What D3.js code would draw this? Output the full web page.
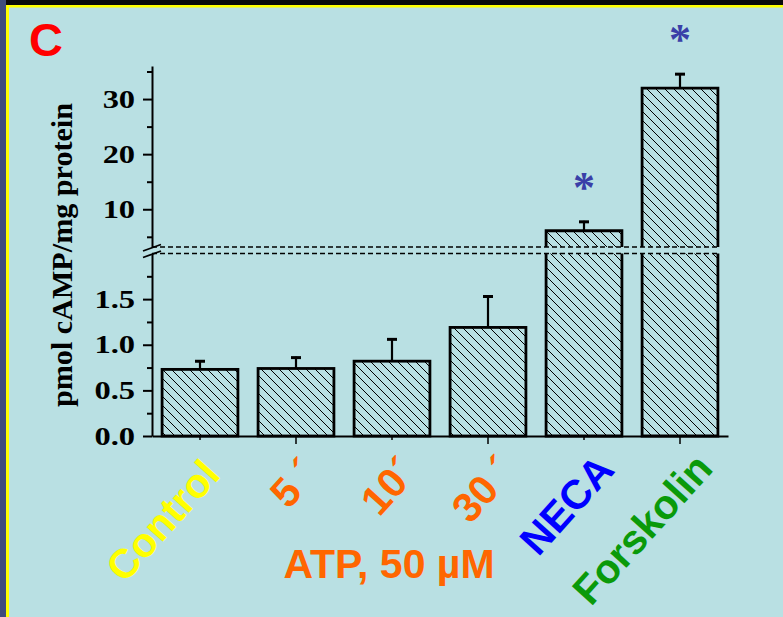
<!DOCTYPE html>
<html>
<head>
<meta charset="utf-8">
<script src="https://cdn.jsdelivr.net/npm/d3@7"></script>
<style>
  html, body { margin: 0; padding: 0; background: #b9e0e3; }
  svg { display: block; }
</style>
</head>
<body>
<div id="chart"></div>
<script>
// values
const categories = ['Control', '5 \u00B4', '10\u00B4', '30 \u00B4', 'NECA', 'Forskolin'];
const labelColors = ['#ffff00', '#ff6600', '#ff6600', '#ff6600', '#0000ff', '#0a9a0a'];
const means = [0.73, 0.74, 0.82, 1.19, 6.1, 32.0];
const errors = [0.10, 0.13, 0.25, 0.35, 1.8, 2.7];
const significant = [false, false, false, false, true, true];
const lowerTicks = [0, 0.5, 1.0, 1.5];
const lowerMinor = [0.25, 0.75, 1.25, 1.75];
const upperTicks = [10, 20, 30];
const upperMinor = [5, 15, 25, 35];

const width = 783, height = 617;
const bg = '#b9e0e3';

const svg = d3.select('#chart').append('svg')
  .attr('width', width)
  .attr('height', height);

const defs = svg.append('defs');
const pat = defs.append('pattern')
  .attr('id', 'hatch')
  .attr('patternUnits', 'userSpaceOnUse')
  .attr('width', 9)
  .attr('height', 9);
pat.append('rect').attr('width', 9).attr('height', 9).attr('fill', bg);
pat.append('path')
  .attr('d', 'M-1,-1L10,10M-1,8L1,10M8,-1L10,1')
  .attr('stroke', '#000')
  .attr('stroke-width', 1);

svg.append('rect').attr('width', width).attr('height', height).attr('fill', bg);

// frame
svg.append('rect').attr('x', 0).attr('y', 0).attr('width', width).attr('height', 5).attr('fill', '#0a0a0a');
svg.append('rect').attr('x', 0).attr('y', 5).attr('width', width).attr('height', 2.5).attr('fill', '#ffff00');
svg.append('rect').attr('x', 0).attr('y', 0).attr('width', 6).attr('height', height).attr('fill', '#3f4c7c');
svg.append('rect').attr('x', 6).attr('y', 5).attr('width', 3).attr('height', height).attr('fill', '#ffff00');

// scales
const x = d3.scaleBand()
  .domain(categories)
  .range([152, 728])
  .paddingInner(0.21)
  .paddingOuter(0.105);

const yLow = d3.scaleLinear().domain([0, 2]).range([436, 253.5]);
const yHigh = d3.scaleLinear().domain([3.15, 36]).range([247, 66]);
const breakLow = 2, breakHigh = 3.15;

const bars = categories.map((c, i) => ({ c, v: means[i], e: errors[i], sig: significant[i] }));

// bars
const g = svg.append('g');
bars.forEach(d => {
  const x0 = x(d.c), x1 = x(d.c) + x.bandwidth();
  if (d.v <= breakLow) {
    g.append('rect')
      .attr('x', x0).attr('y', yLow(d.v))
      .attr('width', x.bandwidth()).attr('height', yLow(0) - yLow(d.v))
      .attr('fill', 'url(#hatch)')
      .attr('stroke', '#000').attr('stroke-width', 2.8);
  } else {
    g.append('rect')
      .attr('x', x0).attr('y', yLow(breakLow))
      .attr('width', x.bandwidth()).attr('height', yLow(0) - yLow(breakLow))
      .attr('fill', 'url(#hatch)');
    g.append('path')
      .attr('d', `M${x0},${yLow(breakLow)}V${yLow(0)}H${x1}V${yLow(breakLow)}`)
      .attr('fill', 'none').attr('stroke', '#000').attr('stroke-width', 2.8);
    g.append('rect')
      .attr('x', x0).attr('y', yHigh(d.v))
      .attr('width', x.bandwidth()).attr('height', yHigh(breakHigh) - yHigh(d.v))
      .attr('fill', 'url(#hatch)');
    g.append('path')
      .attr('d', `M${x0},${yHigh(breakHigh)}V${yHigh(d.v)}H${x1}V${yHigh(breakHigh)}`)
      .attr('fill', 'none').attr('stroke', '#000').attr('stroke-width', 2.8);
  }
});

// error bars (upper only)
const yOf = v => v <= breakLow ? yLow(v) : yHigh(v);
bars.forEach(d => {
  const cx = x(d.c) + x.bandwidth() / 2;
  const top = yOf(d.v + d.e);
  g.append('line')
    .attr('x1', cx).attr('x2', cx)
    .attr('y1', yOf(d.v)).attr('y2', top)
    .attr('stroke', '#000').attr('stroke-width', 2.2);
  g.append('line')
    .attr('x1', cx - 5).attr('x2', cx + 5)
    .attr('y1', top + 1).attr('y2', top + 1)
    .attr('stroke', '#000').attr('stroke-width', 3);
  if (d.sig) {
    g.append('text')
      .attr('x', cx).attr('y', top - 19)
      .attr('text-anchor', 'middle')
      .attr('font-family', 'Liberation Serif, Times New Roman, serif')
      .attr('font-weight', 'bold')
      .attr('font-size', 44)
      .attr('fill', '#3a3fa8')
      .text('*');
  }
});

// break lines
[yHigh(breakHigh), yLow(breakLow)].forEach(yy => {
  svg.append('line')
    .attr('x1', 152).attr('x2', 720)
    .attr('y1', yy).attr('y2', yy)
    .attr('stroke', '#000').attr('stroke-width', 1.4)
    .attr('stroke-dasharray', '5,3');
});

// y axes
const serif = 'Liberation Serif, Times New Roman, serif';
function styleAxis(sel) {
  sel.select('.domain').attr('stroke-width', 2);
  sel.selectAll('.tick line').attr('stroke-width', 2);
  sel.selectAll('text')
    .attr('font-family', serif)
    .attr('font-weight', 'bold')
    .attr('font-size', 25)
    .attr('fill', '#000')
    .attr('transform', 'scale(1.3,1)');
}

const axLow = svg.append('g').attr('transform', 'translate(152,0)')
  .call(d3.axisLeft(yLow).tickValues(lowerTicks).tickSize(9).tickSizeOuter(0)
    .tickPadding(4).tickFormat(d3.format('.1f')));
styleAxis(axLow);
svg.append('g').attr('transform', 'translate(152,0)')
  .call(d3.axisLeft(yLow).tickValues(lowerMinor).tickSize(5).tickFormat(''))
  .call(s => s.select('.domain').remove())
  .call(s => s.selectAll('line').attr('stroke-width', 2));

const axHigh = svg.append('g').attr('transform', 'translate(152,0)')
  .call(d3.axisLeft(yHigh).tickValues(upperTicks).tickSize(9).tickSizeOuter(0)
    .tickPadding(4).tickFormat(d3.format('d')));
styleAxis(axHigh);
svg.append('g').attr('transform', 'translate(152,0)')
  .call(d3.axisLeft(yHigh).tickValues(upperMinor).tickSize(5).tickFormat(''))
  .call(s => s.select('.domain').remove())
  .call(s => s.selectAll('line').attr('stroke-width', 2));

// axis break marks
[0, 6.5].forEach(off => {
  svg.append('line')
    .attr('x1', 143).attr('y1', 251 + off)
    .attr('x2', 161).attr('y2', 244.5 + off)
    .attr('stroke', '#000').attr('stroke-width', 1.8);
});

// x axis
const axX = svg.append('g').attr('transform', 'translate(0,436)')
  .call(d3.axisBottom(x).tickSize(6).tickSizeOuter(0).tickFormat(''));
axX.select('.domain').attr('stroke-width', 2);
axX.selectAll('.tick line').attr('stroke-width', 1.5).attr('y2', (d, i) => i % 2 ? 8 : 4);

// rotated category labels
svg.append('g').selectAll('text')
  .data(categories)
  .join('text')
  .attr('transform', (d, i) => `translate(${x(d) + x.bandwidth() / 2 + 22 + i * 2.5},${476 - i * 1.2}) rotate(-48)`)
  .attr('text-anchor', 'end')
  .attr('font-family', 'Liberation Sans, Arial, sans-serif')
  .attr('font-weight', 'bold')
  .attr('font-size', 41)
  .attr('fill', (d, i) => labelColors[i])
  .text(d => d);

svg.append('text')
  .attr('x', 389).attr('y', 578)
  .attr('text-anchor', 'middle')
  .attr('font-family', 'Liberation Sans, Arial, sans-serif')
  .attr('font-weight', 'bold')
  .attr('font-size', 41)
  .attr('fill', '#ff6600')
  .text('ATP, 50 \u00B5M');

// y title
svg.append('text')
  .attr('transform', 'translate(72,255) rotate(-90)')
  .attr('text-anchor', 'middle')
  .attr('font-family', serif)
  .attr('font-weight', 'bold')
  .attr('font-size', 30)
  .attr('textLength', 304)
  .attr('lengthAdjust', 'spacingAndGlyphs')
  .attr('fill', '#000')
  .text('pmol cAMP/mg protein');

// panel letter
svg.append('text')
  .attr('x', 29).attr('y', 56)
  .attr('font-family', 'Liberation Sans, Arial, sans-serif')
  .attr('font-weight', 'bold')
  .attr('font-size', 47)
  .attr('fill', '#ff0000')
  .text('C');
</script>
</body>
</html>
